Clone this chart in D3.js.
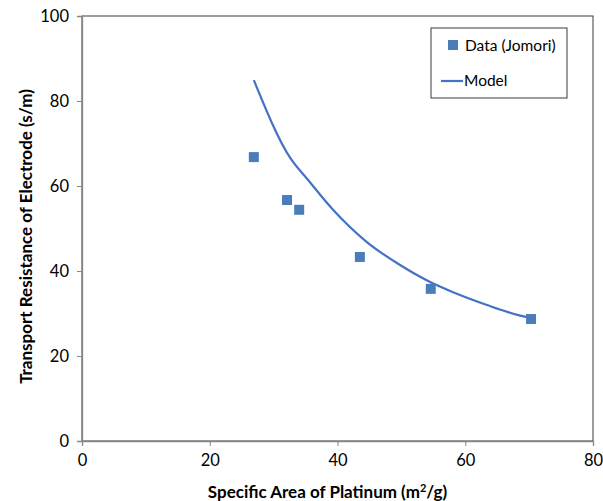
<!DOCTYPE html>
<html>
<head>
<meta charset="utf-8">
<script src="https://cdn.jsdelivr.net/npm/d3@7/dist/d3.min.js"></script>
<style>
  body { margin: 0; background: #fff; }
  text { font-family: Lato, "Open Sans", sans-serif; fill: #000; }
</style>
</head>
<body>
<div id="chart"></div>
<script>
// data punten (Jomori)
var dataX = [26.9, 32.1, 34.0, 43.5, 54.6, 70.3];
var dataY = [66.8, 56.7, 54.4, 43.3, 35.8, 28.7];

var modelX = [26.9, 32.6, 35.4, 39.3, 44.6, 49.8, 54.5, 58.1, 63.4, 68.6, 70.4];
var modelY = [84.9, 66.6, 61.4, 54.4, 46.8, 41.4, 37.4, 35.0, 32.0, 29.5, 28.9];

var xTicks = [0, 20, 40, 60, 80];
var yTicks = [0, 20, 40, 60, 80, 100];

var margin = {top: 16, right: 10, bottom: 60, left: 82};
var width = 603 - margin.left - margin.right;
var height = 501 - margin.top - margin.bottom;

var svg = d3.select('#chart')
  .append('svg')
  .attr('width', 603)
  .attr('height', 501)
.append('g')
  .attr('transform', 'translate(' + margin.left + ',' + margin.top + ')');

var xScale = d3.scaleLinear().domain([0, 80]).range([0, width]);
var yScale = d3.scaleLinear().domain([0, 100]).range([height, 0]);

// kader van het plotgebied
svg.append('rect')
  .attr('x', 0).attr('y', 0)
  .attr('width', width).attr('height', height)
  .attr('fill', 'none')
  .attr('stroke', '#3a3a3a')
  .attr('stroke-width', 1);

var xAxis = d3.axisBottom(xScale).tickValues(xTicks).tickSize(5).tickPadding(8);
var yAxis = d3.axisLeft(yScale).tickValues(yTicks).tickSize(5).tickPadding(8);

var gx = svg.append('g')
  .attr('transform', 'translate(0,' + height + ')')
  .call(xAxis);
var gy = svg.append('g').call(yAxis);

[gx, gy].forEach(function(g){
  g.selectAll('path').attr('stroke', '#868686').attr('stroke-width', 1.3);
  g.selectAll('line').attr('stroke', '#868686');
  g.selectAll('text').attr('font-size', 16.5).attr('font-family', 'Lato, sans-serif');
});

// model lijn
var line = d3.line()
  .x(function(d){ return xScale(d[0]); })
  .y(function(d){ return yScale(d[1]); })
  .curve(d3.curveMonotoneX);

svg.append('path')
  .datum(d3.zip(modelX, modelY))
  .attr('d', line)
  .attr('fill', 'none')
  .attr('stroke', '#4472c4')
  .attr('stroke-width', 2.2);

// data vierkantjes
svg.selectAll('.pt')
  .data(d3.zip(dataX, dataY))
  .enter().append('rect')
  .attr('class', 'pt')
  .attr('x', function(d){ return xScale(d[0]) - 5; })
  .attr('y', function(d){ return yScale(d[1]) - 5; })
  .attr('width', 10)
  .attr('height', 10)
  .attr('fill', '#4a7ebb');

// legenda
var legend = svg.append('g').attr('transform', 'translate(349,12)');
legend.append('rect')
  .attr('width', 136).attr('height', 70)
  .attr('fill', '#fff')
  .attr('stroke', '#3a3a3a');
legend.append('rect')
  .attr('x', 17).attr('y', 12).attr('width', 10).attr('height', 10)
  .attr('fill', '#4a7ebb');
legend.append('text')
  .attr('x', 34).attr('y', 23)
  .attr('font-size', 15.5)
  .text('Data (Jomori)');
legend.append('line')
  .attr('x1', 10).attr('x2', 32).attr('y1', 53).attr('y2', 53)
  .attr('stroke', '#4472c4').attr('stroke-width', 2.2);
legend.append('text')
  .attr('x', 33).attr('y', 58)
  .attr('font-size', 15.5)
  .text('Model');

// as titels
var xTitle = svg.append('text')
  .attr('x', width / 2 - 10)
  .attr('y', height + 57)
  .attr('text-anchor', 'middle')
  .attr('font-size', 17)
  .attr('font-weight', 'bold');
xTitle.append('tspan').text('Specific Area of Platinum (m');
xTitle.append('tspan').attr('font-size', 11).attr('dy', -6).text('2');
xTitle.append('tspan').attr('dy', 6).text('/g)');

svg.append('text')
  .attr('transform', 'translate(-50,' + (height / 2 + 8) + ') rotate(-90)')
  .attr('text-anchor', 'middle')
  .attr('font-size', 17)
  .attr('font-weight', 'bold')
  .text('Transport Resistance of Electrode (s/m)');
</script>
</body>
</html>
